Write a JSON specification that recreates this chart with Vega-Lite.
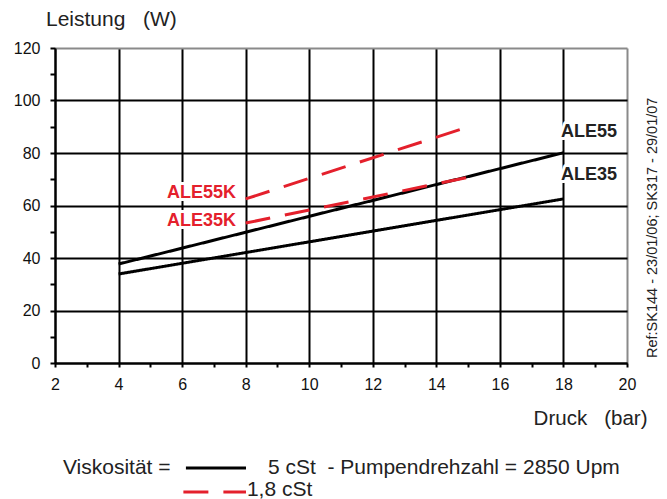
{
  "$schema": "https://vega.github.io/schema/vega-lite/v6.json",
  "width": 572,
  "height": 315,
  "autosize": "none",
  "padding": {"left": 55, "top": 48, "right": 40, "bottom": 136},
  "background": "white",
  "config": {"view": {"stroke": null}, "font": "Liberation Sans"},
  "datasets": {
    "curves": [
      {"series": "ALE55", "visk": "5 cSt", "druck": 4, "p": 37.7},
      {"series": "ALE55", "visk": "5 cSt", "druck": 18, "p": 80.1},
      {"series": "ALE35", "visk": "5 cSt", "druck": 4, "p": 33.9},
      {"series": "ALE35", "visk": "5 cSt", "druck": 18, "p": 62.5},
      {"series": "ALE55K", "visk": "1,8 cSt", "druck": 8, "p": 62.5},
      {"series": "ALE55K", "visk": "1,8 cSt", "druck": 15.15, "p": 90.5},
      {"series": "ALE35K", "visk": "1,8 cSt", "druck": 8, "p": 53.3},
      {"series": "ALE35K", "visk": "1,8 cSt", "druck": 15.15, "p": 71.1}
    ],
    "labels": [
      {"label": "ALE55K", "visk": "1,8 cSt", "druck": 7.7, "p": 64.8},
      {"label": "ALE35K", "visk": "1,8 cSt", "druck": 7.7, "p": 54.1},
      {"label": "ALE55", "visk": "5 cSt", "druck": 17.92, "p": 88},
      {"label": "ALE35", "visk": "5 cSt", "druck": 17.92, "p": 71.6}
    ],
    "legendLines": [
      {"visk": "5 cSt", "druck": 6.12, "druck2": 8.01, "p": -40},
      {"visk": "1,8 cSt", "druck": 6.04, "druck2": 8.01, "p": -49.1}
    ],
    "legendTexts": [
      {"text": "Viskosität =", "druck": 2.25, "p": -42.3},
      {"text": "5 cSt\u00a0\u00a0- Pumpendrehzahl = 2850 Upm", "druck": 8.7, "p": -42.3},
      {"text": "1,8 cSt", "druck": 8.04, "p": -50.6},
      {"text": "Leistung\u00a0\u00a0\u00a0(W)", "druck": 1.717, "p": 128.4}
    ],
    "ref": [
      {"text": "Ref:SK144 - 23/01/06; SK317 - 29/01/07", "druck": 20.82, "p": 51.5}
    ]
  },
  "encoding": {
    "x": {
      "field": "druck",
      "type": "quantitative",
      "scale": {"domain": [2, 20], "nice": false, "zero": false},
      "axis": {
        "values": [2, 3, 4, 5, 6, 7, 8, 9, 10, 11, 12, 13, 14, 15, 16, 17, 18, 19, 20],
        "labelExpr": "datum.value % 2 == 0 ? datum.label : ''",
        "title": "Druck\u00a0\u00a0\u00a0(bar)",
        "titleX": 592,
        "titleY": 61,
        "titleAlign": "right",
        "titleAnchor": null,
        "titleBaseline": "alphabetic",
        "titleFontSize": 20.5,
        "titleFontWeight": "normal",
        "titleColor": "#222",
        "labelFontSize": 16,
        "labelColor": "#111",
        "labelPadding": 9,
        "labelFlush": false,
        "labelOverlap": false,
        "tickSize": 4,
        "tickWidth": 2,
        "tickColor": "black",
        "domainColor": "black",
        "domainWidth": 2,
        "grid": true,
        "gridColor": {"condition": {"test": "datum.value == 20", "value": "#8a8a8a"}, "value": "black"},
        "gridWidth": 2,
        "gridOpacity": {"condition": {"test": "datum.value % 2 == 0", "value": 1}, "value": 0}
      }
    },
    "y": {
      "field": "p",
      "type": "quantitative",
      "scale": {"domain": [0, 120], "nice": false},
      "axis": {
        "values": [0, 10, 20, 30, 40, 50, 60, 70, 80, 90, 100, 110, 120],
        "labelExpr": "datum.value % 20 == 0 ? datum.label : ''",
        "title": null,
        "labelFontSize": 16,
        "labelColor": "#111",
        "labelPadding": 10,
        "labelFlush": false,
        "labelOverlap": false,
        "tickSize": 5,
        "tickWidth": 2,
        "tickColor": "black",
        "domainColor": "black",
        "domainWidth": 2,
        "grid": true,
        "gridColor": {"condition": {"test": "datum.value == 120", "value": "#8a8a8a"}, "value": "black"},
        "gridWidth": 2,
        "gridOpacity": {"condition": {"test": "datum.value % 20 == 0", "value": 1}, "value": 0}
      }
    }
  },
  "layer": [
    {
      "data": {"name": "curves"},
      "mark": {"type": "line", "strokeWidth": 3, "clip": false},
      "encoding": {
        "detail": {"field": "series", "type": "nominal"},
        "color": {
          "field": "visk",
          "type": "nominal",
          "scale": {"domain": ["5 cSt", "1,8 cSt"], "range": ["#000000", "#e4202c"]},
          "legend": null
        },
        "strokeDash": {
          "field": "visk",
          "type": "nominal",
          "scale": {"domain": ["5 cSt", "1,8 cSt"], "range": [[1, 0], [25, 15]]},
          "legend": null
        }
      }
    },
    {
      "data": {"name": "legendLines"},
      "mark": {"type": "rule", "strokeWidth": 3, "clip": false},
      "encoding": {
        "x2": {"field": "druck2"},
        "color": {"field": "visk", "type": "nominal", "legend": null},
        "strokeDash": {"field": "visk", "type": "nominal", "legend": null}
      }
    },
    {
      "data": {"name": "legendTexts"},
      "mark": {"type": "text", "align": "left", "baseline": "alphabetic", "fontSize": 21, "fill": "#222", "clip": false},
      "encoding": {"text": {"field": "text"}}
    },
    {
      "data": {"name": "labels"},
      "transform": [{"filter": "datum.visk == '1,8 cSt'"}],
      "mark": {"type": "text", "align": "right", "baseline": "middle", "fontSize": 18, "fontWeight": "bold", "stroke": "white", "strokeWidth": 6, "strokeJoin": "round", "fill": "white"},
      "encoding": {"text": {"field": "label"}}
    },
    {
      "data": {"name": "labels"},
      "transform": [{"filter": "datum.visk == '1,8 cSt'"}],
      "mark": {"type": "text", "align": "right", "baseline": "middle", "fontSize": 18, "fontWeight": "bold", "fill": "#e4202c"},
      "encoding": {"text": {"field": "label"}}
    },
    {
      "data": {"name": "labels"},
      "transform": [{"filter": "datum.visk == '5 cSt'"}],
      "mark": {"type": "text", "align": "left", "baseline": "middle", "fontSize": 18, "fontWeight": "bold", "stroke": "white", "strokeWidth": 6, "strokeJoin": "round", "fill": "white"},
      "encoding": {"text": {"field": "label"}}
    },
    {
      "data": {"name": "labels"},
      "transform": [{"filter": "datum.visk == '5 cSt'"}],
      "mark": {"type": "text", "align": "left", "baseline": "middle", "fontSize": 18, "fontWeight": "bold", "fill": "#222"},
      "encoding": {"text": {"field": "label"}}
    },
    {
      "data": {"name": "ref"},
      "mark": {"type": "text", "align": "center", "baseline": "middle", "fontSize": 14.5, "angle": 270, "fill": "#222"},
      "encoding": {"text": {"field": "text"}}
    }
  ]
}
